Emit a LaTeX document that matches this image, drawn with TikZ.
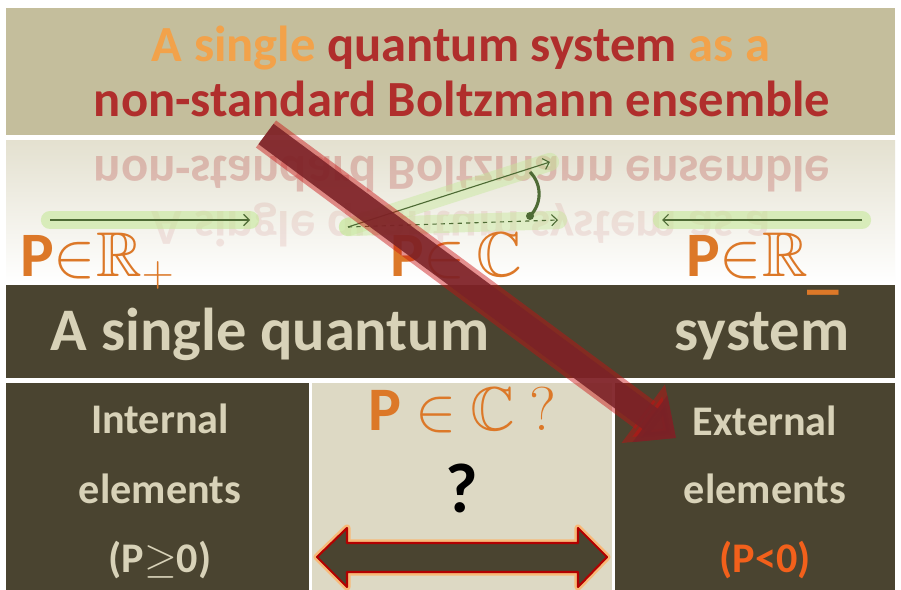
\RequirePackage{fix-cm}
\documentclass[tikz,border=0pt]{standalone}
\usepackage{amssymb}
\usepackage{fontspec}
\setmainfont{Carlito}
\usetikzlibrary{arrows.meta}
\definecolor{banda}{HTML}{C4BE9C}
\definecolor{oscuro}{HTML}{4A4430}
\definecolor{claro}{HTML}{DDD9C4}
\definecolor{texto}{HTML}{D8D2B8}
\definecolor{naranja}{HTML}{F2A24A}
\definecolor{rojo}{HTML}{B02E2C}
\definecolor{cobre}{HTML}{DC7828}
\definecolor{verde}{HTML}{4E6B35}
\definecolor{brillo}{HTML}{C6E89A}
\definecolor{vino}{HTML}{7A2227}
\definecolor{fuego}{HTML}{F2601B}
\begin{document}
\begin{tikzpicture}[x=0.025cm,y=-0.025cm,
    titulo/.style={font=\bfseries\fontsize{36}{40}\selectfont,inner sep=0pt,anchor=base},
    banner/.style={font=\bfseries\fontsize{43}{48}\selectfont,text=texto,inner sep=0pt,anchor=base},
    caja/.style={font=\bfseries\fontsize{30}{34}\selectfont,text=texto,inner sep=0pt,anchor=base},
    conjunto/.style={font=\bfseries\fontsize{45}{50}\selectfont,text=cobre,inner sep=0pt,anchor=base west},
    rayo/.style={verde,line width=0.8pt,-{Straight Barb[length=4pt,width=8pt]}},
    halo/.style={brillo,line width=13pt,line cap=round,opacity=0.6}]
    \useasboundingbox[fill=white] (0,0) rectangle (901,590);

    % Fondos
    \fill[banda] (6,8) rectangle (895,135);
    \shade[top color=claro!80!white,bottom color=white] (6,141) rectangle (895,283);
    \fill[oscuro] (6,285) rectangle (895,378);
    \fill[oscuro] (6,383) rectangle (309,590);
    \fill[claro] (312,383) rectangle (612,590);
    \fill[oscuro] (615,383) rectangle (895,590);

    % Titulo
    \node[titulo] (lineaA) at (461,62) {\color{naranja}A single \color{rojo}quantum system \color{naranja}as a};
    \node[titulo,text=rojo] (lineaB) at (462,117) {non-standard Boltzmann ensemble};

    % Reflejo del titulo
    \begin{scope}[shift={(462,157)},yscale=-1]
        \node[titulo,transform shape,text=rojo,opacity=0.25] (reflejoB) at (0,0) {non-standard Boltzmann ensemble};
    \end{scope}
    \begin{scope}[shift={(461,212)},yscale=-1]
        \node[titulo,transform shape,text=rojo,opacity=0.1] (reflejoA) at (0,0) {A single quantum system as a};
    \end{scope}

    % Flechas de fase
    \coordinate (izqA) at (50,220);
    \coordinate (izqB) at (250,220);
    \coordinate (derA) at (862,220);
    \coordinate (derB) at (662,220);
    \coordinate (origen) at (348,227);
    \coordinate (fase) at (550,162);
    \coordinate (real) at (558,220);
    \coordinate (arcoA) at (530,172);
    \coordinate (arcoB) at (530,216);
    \draw[halo] (izqA) -- (izqB);
    \draw[halo] (derA) -- (derB);
    \draw[halo,opacity=0.45] (origen) -- (fase);
    \draw[halo,opacity=0.45] (origen) -- (real);
    \draw[rayo] (izqA) -- (izqB);
    \draw[rayo] (derA) -- (derB);
    \draw[rayo] (origen) -- (fase);
    \draw[rayo,dashed] (origen) -- (real);
    \draw[verde,line width=2.2pt] (arcoA) to[bend left=45] (arcoB);
    \fill[verde] (arcoB) circle (4);

    % Conjuntos
    \node[conjunto] (Rmas) at (20,277) {P$\mathord{\in}\mathbb{R}_{+}$};
    \node[conjunto] (Cfase) at (390,277) {P$\mathord{\in}\,\mathbb{C}$};
    \node[conjunto] (Rmenos) at (686,277) {P$\mathord{\in}\mathbb{R}_{\mbox{\_}}$};

    % Banda oscura
    \node[banner] (unico) at (270,350) {A single quantum};
    \node[banner] (sistema) at (762,350) {system};

    % Elementos internos
    \node[caja] (int1) at (160,433) {Internal};
    \node[caja] (int2) at (160,503) {elements};
    \node[caja] (int3) at (160,572) {(P$\geq$0)};

    % Centro
    \node[font=\bfseries\fontsize{44}{48}\selectfont,text=cobre,inner sep=0pt,anchor=base] (pregunta) at (462,430) {P $\in$ $\mathbb{C}$ $?$};
    \node[font=\bfseries\fontsize{50}{54}\selectfont,text=black,inner sep=0pt,anchor=base] (duda) at (462,512) {?};
    \path[draw=orange!60,line width=5pt,line join=round,opacity=0.8]
        (317,557) -- (347,528) -- (347,543) -- (578,543) -- (578,528) -- (607,557)
        -- (578,587) -- (578,572) -- (347,572) -- (347,587) -- cycle;
    \path[fill=oscuro,draw=red!70!black,line width=1.5pt,line join=round]
        (317,557) -- (347,528) -- (347,543) -- (578,543) -- (578,528) -- (607,557)
        -- (578,587) -- (578,572) -- (347,572) -- (347,587) -- cycle;

    % Elementos externos
    \node[caja] (ext1) at (765,435) {External};
    \node[caja] (ext2) at (765,503) {elements};
    \node[caja,text=fuego] (ext3) at (765,572) {(P<0)};

    % Flecha diagonal
    \coordinate (cola) at (266,134);
    \coordinate (punta) at (676,438);
    \draw[red!60!vino,opacity=0.45,line width=24pt,-{Triangle[width=50pt,length=29pt]}] (cola) -- (punta);
    \draw[vino,opacity=0.88,line width=18pt,-{Triangle[width=40pt,length=23pt]}] (cola) -- (punta);
\end{tikzpicture}
\end{document}
